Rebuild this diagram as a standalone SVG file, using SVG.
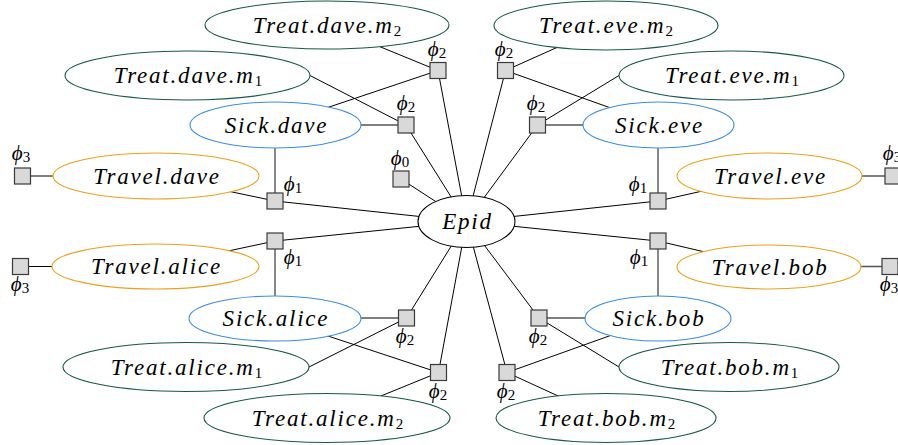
<svg xmlns="http://www.w3.org/2000/svg" width="898" height="445" viewBox="0 0 898 445">
  <style>
    .bg { fill: #ffffff; }
    .c { stroke: #000000; stroke-width: 1; fill: none; }
    .g { stroke: #555555; stroke-width: 1.4; fill: none; }
    .e { fill: #ffffff; stroke-width: 1.1; }
    .treat { stroke: #16594a; }
    .sick { stroke: #3b8ee0; }
    .travel { stroke: #eca11c; }
    .epid { stroke: #000000; }
    .f { fill: #d9d9d9; stroke: #3a3a3a; stroke-width: 1.2; }
    .t { font-family: "Liberation Serif", "DejaVu Serif", serif; font-style: italic; font-size: 23px; letter-spacing: 1.8px; text-anchor: middle; fill: #000000; }
    .sub { font-style: normal; font-size: 15px; letter-spacing: 0; }
    .l { font-family: "Liberation Serif", "DejaVu Serif", serif; font-style: italic; font-size: 21px; text-anchor: middle; fill: #000000; }
    .ls { font-style: normal; font-size: 15px; }
  </style>
  <rect class="bg" x="0" y="0" width="898" height="445"/>

  <!-- connectors (drawn first, nodes cover their ends) -->
  <g id="connectors">
    <!-- Epid to its factors -->
    <line class="c" x1="466.5" y1="221.5" x2="401" y2="179"/>
    <line class="c" x1="466.5" y1="221.5" x2="275" y2="201"/>
    <line class="c" x1="466.5" y1="221.5" x2="275" y2="241"/>
    <line class="c" x1="466.5" y1="221.5" x2="658" y2="201"/>
    <line class="c" x1="466.5" y1="221.5" x2="658" y2="241"/>
    <line class="c" x1="466.5" y1="221.5" x2="406" y2="125"/>
    <line class="c" x1="466.5" y1="221.5" x2="438" y2="70.5"/>
    <line class="c" x1="466.5" y1="221.5" x2="505.5" y2="70.5"/>
    <line class="c" x1="466.5" y1="221.5" x2="537.5" y2="125"/>
    <line class="c" x1="466.5" y1="221.5" x2="406.5" y2="318"/>
    <line class="c" x1="466.5" y1="221.5" x2="438.5" y2="372.5"/>
    <line class="c" x1="466.5" y1="221.5" x2="539" y2="318"/>
    <line class="c" x1="466.5" y1="221.5" x2="507" y2="372.5"/>

    <!-- dave -->
    <line class="g" x1="275.5" y1="125" x2="406" y2="125"/>
    <line class="c" x1="275.5" y1="125" x2="438" y2="70.5"/>
    <line class="g" x1="275" y1="125" x2="275" y2="201"/>
    <line class="c" x1="310" y1="75.5" x2="406" y2="125"/>
    <line class="c" x1="327" y1="25" x2="438" y2="70.5"/>
    <line class="c" x1="156" y1="176" x2="275" y2="201"/>
    <line class="c" x1="22.5" y1="176" x2="156" y2="176"/>

    <!-- eve -->
    <line class="g" x1="658.5" y1="125" x2="537.5" y2="125"/>
    <line class="c" x1="658.5" y1="125" x2="505.5" y2="70.5"/>
    <line class="g" x1="658" y1="125" x2="658" y2="201"/>
    <line class="c" x1="619" y1="75.5" x2="537.5" y2="125"/>
    <line class="c" x1="606" y1="25.5" x2="505.5" y2="70.5"/>
    <line class="c" x1="769.5" y1="176" x2="658" y2="201"/>
    <line class="c" x1="769.5" y1="176" x2="893" y2="176"/>

    <!-- alice -->
    <line class="g" x1="275" y1="318" x2="406.5" y2="318"/>
    <line class="c" x1="275" y1="318.5" x2="438.5" y2="372.5"/>
    <line class="g" x1="275" y1="318.5" x2="275" y2="241"/>
    <line class="c" x1="309" y1="367" x2="406.5" y2="318"/>
    <line class="c" x1="327" y1="418" x2="438.5" y2="372.5"/>
    <line class="c" x1="155.5" y1="266.5" x2="275" y2="241"/>
    <line class="c" x1="20.5" y1="266.5" x2="155.5" y2="266.5"/>

    <!-- bob -->
    <line class="g" x1="658" y1="318" x2="539" y2="318"/>
    <line class="c" x1="658" y1="318.5" x2="507" y2="372.5"/>
    <line class="g" x1="658" y1="318.5" x2="658" y2="241"/>
    <line class="c" x1="619" y1="367" x2="539" y2="318"/>
    <line class="c" x1="606" y1="418" x2="507" y2="372.5"/>
    <line class="c" x1="769" y1="267" x2="658" y2="241"/>
    <line class="g" x1="769" y1="266.5" x2="890" y2="266.5"/>
  </g>

  <!-- variable nodes -->
  <g id="epid">
    <ellipse class="e epid" cx="466.5" cy="221.5" rx="48.5" ry="26"/>
    <text class="t" x="467.5" y="228.5">Epid</text>
  </g>

  <g id="treat-dave-m2">
    <ellipse class="e treat" cx="327" cy="25" rx="122" ry="24"/>
    <text class="t" x="327" y="32.5">Treat.dave.m<tspan class="sub" dy="3">2</tspan></text>
  </g>
  <g id="treat-dave-m1">
    <ellipse class="e treat" cx="187.5" cy="75.5" rx="122.5" ry="24.5"/>
    <text class="t" x="188" y="83">Treat.dave.m<tspan class="sub" dy="3">1</tspan></text>
  </g>
  <g id="sick-dave">
    <ellipse class="e sick" cx="275.5" cy="125" rx="85.5" ry="23"/>
    <text class="t" x="276.5" y="132.5">Sick.dave</text>
  </g>
  <g id="travel-dave">
    <ellipse class="e travel" cx="156" cy="176" rx="103" ry="23"/>
    <text class="t" x="157" y="183.5">Travel.dave</text>
  </g>

  <g id="treat-eve-m2">
    <ellipse class="e treat" cx="606" cy="25.5" rx="112" ry="24.5"/>
    <text class="t" x="606" y="33">Treat.eve.m<tspan class="sub" dy="3">2</tspan></text>
  </g>
  <g id="treat-eve-m1">
    <ellipse class="e treat" cx="731.5" cy="75.5" rx="112.5" ry="24.5"/>
    <text class="t" x="732" y="83">Treat.eve.m<tspan class="sub" dy="3">1</tspan></text>
  </g>
  <g id="sick-eve">
    <ellipse class="e sick" cx="658.5" cy="125" rx="75.5" ry="23"/>
    <text class="t" x="659.5" y="132.5">Sick.eve</text>
  </g>
  <g id="travel-eve">
    <ellipse class="e travel" cx="769.5" cy="176" rx="92.5" ry="23"/>
    <text class="t" x="770.5" y="183.5">Travel.eve</text>
  </g>

  <g id="travel-alice">
    <ellipse class="e travel" cx="155.5" cy="266.5" rx="103.5" ry="22.5"/>
    <text class="t" x="156.5" y="274">Travel.alice</text>
  </g>
  <g id="sick-alice">
    <ellipse class="e sick" cx="275" cy="318.5" rx="86" ry="22.5"/>
    <text class="t" x="276" y="326">Sick.alice</text>
  </g>
  <g id="treat-alice-m1">
    <ellipse class="e treat" cx="186" cy="367" rx="123" ry="24.5"/>
    <text class="t" x="186.5" y="374.5">Treat.alice.m<tspan class="sub" dy="3">1</tspan></text>
  </g>
  <g id="treat-alice-m2">
    <ellipse class="e treat" cx="327" cy="418" rx="123" ry="24.5"/>
    <text class="t" x="327.5" y="425.5">Treat.alice.m<tspan class="sub" dy="3">2</tspan></text>
  </g>

  <g id="travel-bob">
    <ellipse class="e travel" cx="769" cy="267" rx="92" ry="22"/>
    <text class="t" x="770" y="274.5">Travel.bob</text>
  </g>
  <g id="sick-bob">
    <ellipse class="e sick" cx="658" cy="318.5" rx="73" ry="22.5"/>
    <text class="t" x="659" y="326">Sick.bob</text>
  </g>
  <g id="treat-bob-m1">
    <ellipse class="e treat" cx="729" cy="367" rx="110" ry="24.5"/>
    <text class="t" x="729.5" y="374.5">Treat.bob.m<tspan class="sub" dy="3">1</tspan></text>
  </g>
  <g id="treat-bob-m2">
    <ellipse class="e treat" cx="606" cy="418" rx="110" ry="24.5"/>
    <text class="t" x="606.5" y="425.5">Treat.bob.m<tspan class="sub" dy="3">2</tspan></text>
  </g>

  <!-- factor nodes -->
  <g id="phi0">
    <rect class="f" x="393" y="171" width="16" height="16"/>
    <text class="l" x="400" y="165">ϕ<tspan class="ls" dy="2">0</tspan></text>
  </g>
  <g id="phi1-dave">
    <rect class="f" x="267" y="193" width="16" height="16"/>
    <text class="l" x="293" y="191">ϕ<tspan class="ls" dy="2">1</tspan></text>
  </g>
  <g id="phi1-alice">
    <rect class="f" x="267" y="233" width="16" height="16"/>
    <text class="l" x="293" y="264">ϕ<tspan class="ls" dy="2">1</tspan></text>
  </g>
  <g id="phi1-eve">
    <rect class="f" x="650" y="193" width="16" height="16"/>
    <text class="l" x="638" y="191">ϕ<tspan class="ls" dy="2">1</tspan></text>
  </g>
  <g id="phi1-bob">
    <rect class="f" x="650" y="233" width="16" height="16"/>
    <text class="l" x="639" y="264">ϕ<tspan class="ls" dy="2">1</tspan></text>
  </g>
  <g id="phi2-dave-m1">
    <rect class="f" x="398" y="117" width="16" height="16"/>
    <text class="l" x="406" y="110">ϕ<tspan class="ls" dy="2">2</tspan></text>
  </g>
  <g id="phi2-dave-m2">
    <rect class="f" x="430" y="62.5" width="16" height="16"/>
    <text class="l" x="437" y="56">ϕ<tspan class="ls" dy="2">2</tspan></text>
  </g>
  <g id="phi2-eve-m2">
    <rect class="f" x="497.5" y="62.5" width="16" height="16"/>
    <text class="l" x="504" y="56">ϕ<tspan class="ls" dy="2">2</tspan></text>
  </g>
  <g id="phi2-eve-m1">
    <rect class="f" x="529.5" y="117" width="16" height="16"/>
    <text class="l" x="536" y="110">ϕ<tspan class="ls" dy="2">2</tspan></text>
  </g>
  <g id="phi2-alice-m1">
    <rect class="f" x="398.5" y="310" width="16" height="16"/>
    <text class="l" x="405" y="343">ϕ<tspan class="ls" dy="2">2</tspan></text>
  </g>
  <g id="phi2-alice-m2">
    <rect class="f" x="430.5" y="364.5" width="16" height="16"/>
    <text class="l" x="438" y="398">ϕ<tspan class="ls" dy="2">2</tspan></text>
  </g>
  <g id="phi2-bob-m1">
    <rect class="f" x="531" y="310" width="16" height="16"/>
    <text class="l" x="538" y="343">ϕ<tspan class="ls" dy="2">2</tspan></text>
  </g>
  <g id="phi2-bob-m2">
    <rect class="f" x="499" y="364.5" width="16" height="16"/>
    <text class="l" x="506" y="398">ϕ<tspan class="ls" dy="2">2</tspan></text>
  </g>
  <g id="phi3-dave">
    <rect class="f" x="14.5" y="168" width="16" height="16"/>
    <text class="l" x="21" y="160">ϕ<tspan class="ls" dy="2">3</tspan></text>
  </g>
  <g id="phi3-alice">
    <rect class="f" x="12.5" y="258.5" width="16" height="16"/>
    <text class="l" x="20" y="291">ϕ<tspan class="ls" dy="2">3</tspan></text>
  </g>
  <g id="phi3-eve">
    <rect class="f" x="885" y="168" width="16" height="16"/>
    <text class="l" x="892" y="160">ϕ<tspan class="ls" dy="2">3</tspan></text>
  </g>
  <g id="phi3-bob">
    <rect class="f" x="882" y="258.5" width="16" height="16"/>
    <text class="l" x="889" y="291">ϕ<tspan class="ls" dy="2">3</tspan></text>
  </g>
</svg>
